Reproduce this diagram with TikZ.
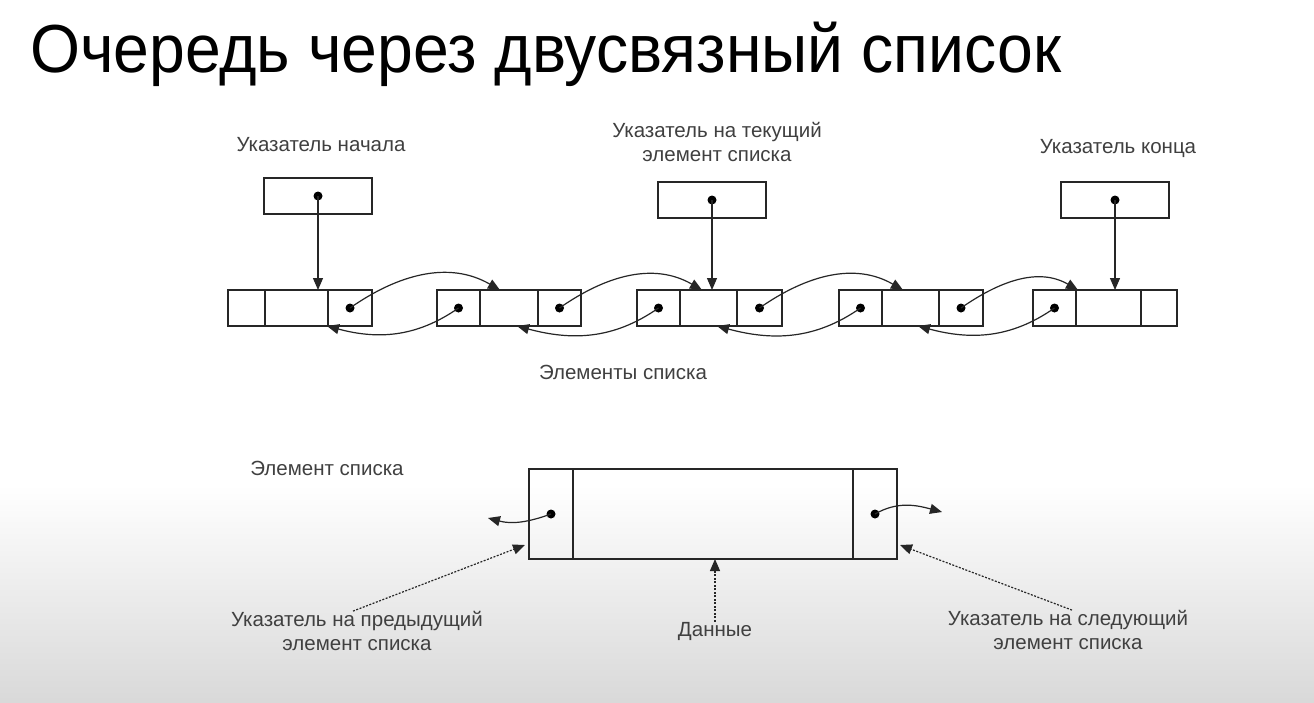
\documentclass[tikz,border=0pt]{standalone}
\usepackage{fontspec}
\usepackage{graphicx}
\setmainfont{Liberation Sans}
\usetikzlibrary{arrows.meta,calc}
\begin{document}
\begin{tikzpicture}[x=1pt,y=-1pt,
  cell/.style={draw=black!85, line width=1.3pt, minimum height=36pt, inner sep=0pt, outer sep=0pt, anchor=west},
  ptrbox/.style={draw=black!85, line width=1.3pt, minimum width=108pt, minimum height=36pt, inner sep=0pt, outer sep=0pt},
  bigcell/.style={draw=black!85, line width=1.3pt, minimum height=90pt, inner sep=0pt, outer sep=0pt, anchor=west},
  lbl/.style={font=\fontsize{20.5}{24}\selectfont, text=black!75, align=center, inner sep=0pt},
  conn/.style={draw=black!85, line width=1.2pt, -{Triangle[length=12pt,width=10pt]}},
  hint/.style={conn, dash pattern=on 2pt off 1.5pt},
  pdot/.style={circle, fill=black, inner sep=0pt, minimum size=9pt},
]
\useasboundingbox (0,0) rectangle (1314,702);
\fill[white] (0,0) rectangle (1314,702);
\shade[top color=white, bottom color=black!15] (0,485) rectangle (1314,702);

% title
\node[anchor=base west, inner sep=0pt, font=\fontsize{68}{68}\selectfont] (title) at (30,72) {\scalebox{0.945}[1]{Очередь через двусвязный список}};

% labels top
\node[lbl] (lstart) at (321,145) {Указатель начала};
\node[lbl] (lcur) at (717,142) {Указатель на текущий\\элемент списка};
\node[lbl] (lend) at (1118,148) {Указатель конца};
\node[lbl] (litems) at (623,372) {Элементы списка};

% pointer boxes
\node[ptrbox] (pa) at (318,196) {};
\node[ptrbox] (pb) at (712,200) {};
\node[ptrbox] (pc) at (1115,200) {};
\node[pdot] (pad) at (pa.center) {};
\node[pdot] (pbd) at (pb.center) {};
\node[pdot] (pcd) at (pc.center) {};

% list elements
\node[cell, minimum width=37pt] (p1) at (228,308) {};
\node[cell, minimum width=63pt] (d1) at (p1.east) {};
\node[cell, minimum width=44pt] (n1) at (d1.east) {};

\node[cell, minimum width=43pt] (p2) at (437,308) {};
\node[cell, minimum width=58pt] (d2) at (p2.east) {};
\node[cell, minimum width=43pt] (n2) at (d2.east) {};

\node[cell, minimum width=43pt] (p3) at (637,308) {};
\node[cell, minimum width=57pt] (d3) at (p3.east) {};
\node[cell, minimum width=45pt] (n3) at (d3.east) {};

\node[cell, minimum width=43pt] (p4) at (839,308) {};
\node[cell, minimum width=57pt] (d4) at (p4.east) {};
\node[cell, minimum width=44pt] (n4) at (d4.east) {};

\node[cell, minimum width=43pt] (p5) at (1033,308) {};
\node[cell, minimum width=65pt] (d5) at (p5.east) {};
\node[cell, minimum width=36pt] (n5) at (d5.east) {};

\foreach \c in {n1,p2,n2,p3,n3,p4,n4,p5}{
  \node[pdot] (\c dot) at (\c.center) {};
}

% pointer arrows
\draw[conn] (pad.center) -- (pad.center |- d1.north);
\draw[conn] (pbd.center) -- (pbd.center |- d3.north);
\draw[conn] (pcd.center) -- (pcd.center |- d5.north);

% forward links
\draw[conn] (n1dot.center) to[out=35,in=150] ([xshift=20pt]d2.north west);
\draw[conn] (n2dot.center) to[out=35,in=150] ([xshift=22pt]d3.north west);
\draw[conn] (n3dot.center) to[out=35,in=150] ([xshift=21pt]d4.north west);
\draw[conn] (n4dot.center) to[out=35,in=150] ([xshift=2pt]d5.north west);

% backward links
\draw[conn] (p2dot.center) to[out=-145,in=-15] ([xshift=-1pt]d1.south east);
\draw[conn] (p3dot.center) to[out=-145,in=-15] ([xshift=-21pt]d2.south east);
\draw[conn] (p4dot.center) to[out=-145,in=-15] ([xshift=-20pt]d3.south east);
\draw[conn] (p5dot.center) to[out=-145,in=-15] ([xshift=-21pt]d4.south east);

% bottom: single element
\node[lbl] (lelem) at (327,468) {Элемент списка};
\node[bigcell, minimum width=44pt] (bp) at (529,514) {};
\node[bigcell, minimum width=280pt] (bd) at (bp.east) {};
\node[bigcell, minimum width=44pt] (bn) at (bd.east) {};
\node[pdot] (bpdot) at (bp.center) {};
\node[pdot] (bndot) at (bn.center) {};
\coordinate (outL) at ([xshift=-41pt,yshift=-4pt]bp.west);
\coordinate (outR) at ([xshift=45pt,yshift=2pt]bn.east);
\draw[conn] (bpdot.center) to[out=-160,in=-15] (outL);
\draw[conn] (bndot.center) to[out=30,in=165] (outR);

\node[lbl] (lprev) at (357,631) {Указатель на предыдущий\\элемент списка};
\node[lbl] (ldata) at (715,631) {Данные};
\node[lbl] (lnext) at (1068,630) {Указатель на следующий\\элемент списка};

\draw[hint] ([xshift=-4pt]lprev.north) -- ([xshift=-4pt,yshift=14pt]bp.south west);
\draw[hint] (ldata.north) -- (ldata.north |- bd.south);
\draw[hint] ([xshift=4pt]lnext.north) -- ([xshift=3pt,yshift=14pt]bn.south east);
\end{tikzpicture}
\end{document}
